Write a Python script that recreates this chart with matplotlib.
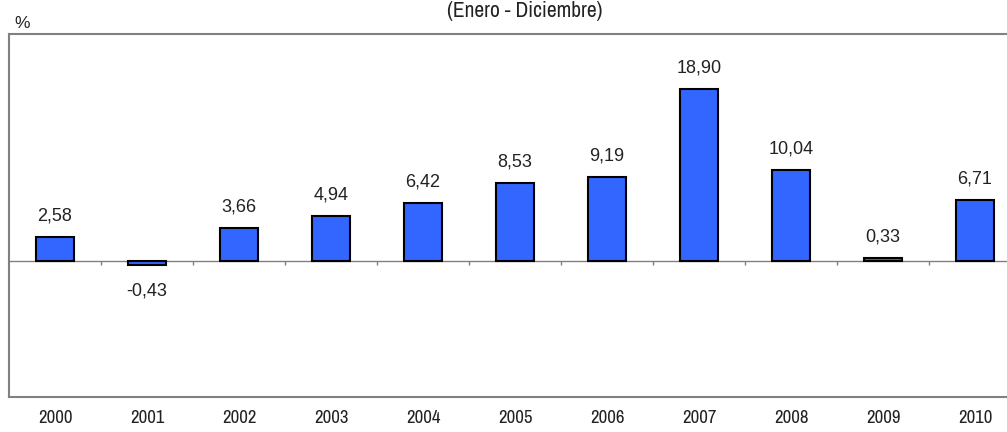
import matplotlib
matplotlib.use('Agg')
import matplotlib.pyplot as plt
import numpy as np


years = ['2000', '2001', '2002', '2003', '2004', '2005',
         '2006', '2007', '2008', '2009', '2010']
values = [2.58, -0.43, 3.66, 4.94, 6.42, 8.53, 9.19, 18.90, 10.04, 0.33, 6.71]

narrow = ['Archivo Narrow', 'PT Sans Narrow', 'DejaVu Sans']
arial = ['Liberation Sans', 'DejaVu Sans']

fig = plt.figure(figsize=(10.07, 4.32), dpi=100)
ax = fig.add_axes([9 / 1007, 35 / 432, 1012 / 1007, 363 / 432])

x = np.arange(len(years))
ax.bar(x, values, width=0.41, color='#3366FF', edgecolor='black',
       linewidth=1.5, zorder=3)

for xi, v in zip(x, values):
    label = f'{v:.2f}'.replace('.', ',')
    if v >= 0:
        ax.annotate(label, (xi, v), xytext=(0, 9), textcoords='offset points',
                    ha='center', va='bottom', fontsize=13, family=arial,
                    color='#222222')
    else:
        ax.annotate(label, (xi, v), xytext=(0, -13), textcoords='offset points',
                    ha='center', va='top', fontsize=13, family=arial,
                    color='#222222')

ax.set_xlim(-0.5, len(years) - 0.5)
ax.set_ylim(-15, 25)

# zero line with small ticks between categories
ax.axhline(0, color='#808080', linewidth=1, zorder=2)
ax.vlines(np.arange(0.5, len(years) - 0.5), -0.45, 0, color='#808080',
          linewidth=1, zorder=2)

ax.set_xticks(x)
ax.set_xticklabels(years, family=narrow, fontsize=13.5, color='#222222')
ax.tick_params(axis='x', length=0, pad=9.5)
ax.set_yticks([])

for side in ['top', 'bottom', 'left']:
    ax.spines[side].set_color('#808080')
    ax.spines[side].set_linewidth(1.5)
ax.spines['right'].set_visible(False)

fig.text(525 / 1007, 1 - 17 / 432, '(Enero - Diciembre)', ha='center',
         va='baseline', fontsize=15.5, family=narrow, color='#222222')
fig.text(14 / 1007, 1 - 23 / 432, '%', ha='left', va='center',
         fontsize=12.5, family=arial, color='#222222')

fig.savefig('out.png', dpi=100)
